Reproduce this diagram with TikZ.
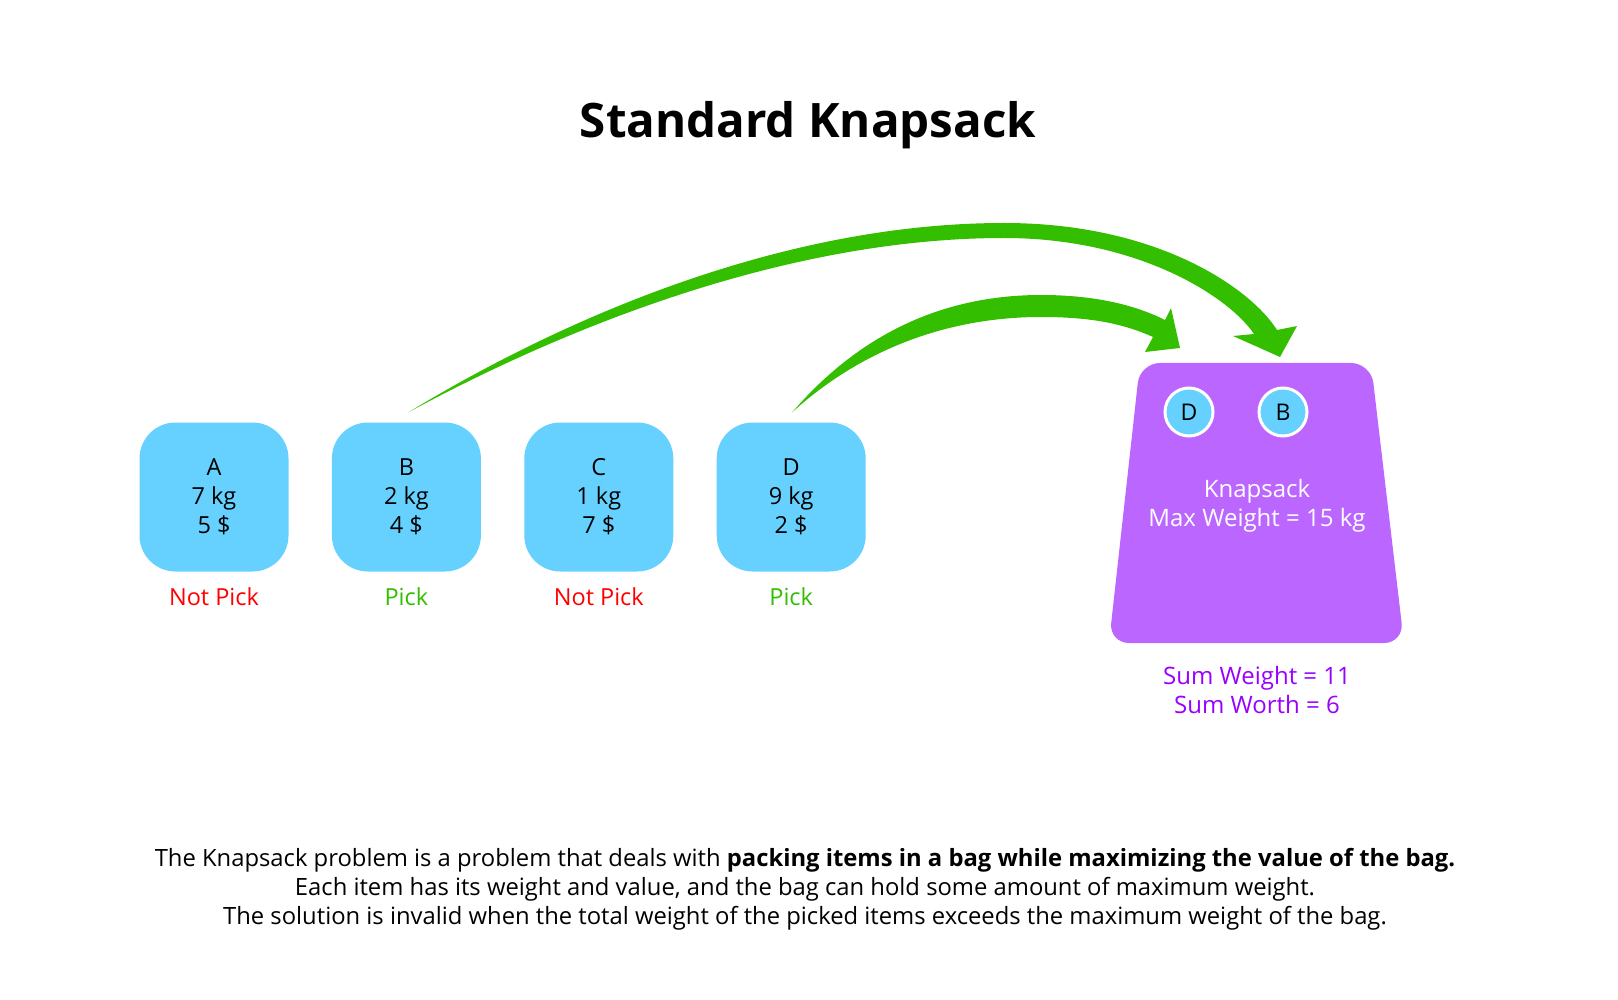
\documentclass[tikz,border=0pt]{standalone}
\usepackage{fontspec}
\setmainfont{Open Sans}
\usepackage{xcolor}
\definecolor{itemblue}{RGB}{102,209,255}
\definecolor{bagpurple}{RGB}{187,102,255}
\definecolor{sumpurple}{RGB}{153,0,255}
\definecolor{pickgreen}{RGB}{51,190,0}
\definecolor{notred}{RGB}{255,0,0}
\usepackage{tikz}
\usetikzlibrary{
    positioning,
    calc
}

\tikzset{
    itembox/.style={fill=itemblue, rounded corners=36pt, minimum width=149pt, minimum height=149pt,
        inner sep=0pt, align=center, font=\fontsize{23.5}{29}\selectfont},
    verdict/.style={anchor=base, font=\fontsize{23.5}{29}\selectfont},
    chip/.style={circle, fill=itemblue, draw=white, line width=3pt, minimum size=48pt, inner sep=0pt,
        font=\fontsize{23}{28}\selectfont},
    bagtext/.style={align=center, font=\fontsize{24}{29}\selectfont}
}

\begin{document}
\begin{tikzpicture}[x=1pt, y=-1pt, node distance=43pt]
    \useasboundingbox (0,0) rectangle (1618,1000);

    % title
    \node[anchor=base, font=\fontsize{47.5}{52}\selectfont\bfseries] (title) at (808,138) {Standard Knapsack};

    % items
    \node[itembox] (itemA) at (214,497) {A\\7 kg\\5 \$};
    \node[itembox, right=of itemA] (itemB) {B\\2 kg\\4 \$};
    \node[itembox, right=of itemB] (itemC) {C\\1 kg\\7 \$};
    \node[itembox, right=of itemC] (itemD) {D\\9 kg\\2 \$};

    \node[verdict, text=notred] (pickA) at ($(itemA.south)+(0,34)$) {Not Pick};
    \node[verdict, text=pickgreen] (pickB) at ($(itemB.south)+(0,34)$) {Pick};
    \node[verdict, text=notred] (pickC) at ($(itemC.south)+(0,34)$) {Not Pick};
    \node[verdict, text=pickgreen] (pickD) at ($(itemD.south)+(0,34)$) {Pick};

    % knapsack
    \fill[bagpurple, rounded corners=20pt] (1140,363) -- (1371,363) -- (1404,643) -- (1109,643) -- cycle;
    \node[chip] (inD) at (1189,412) {D};
    \node[chip] (inB) at (1283,412) {B};
    \node[bagtext, text=white] (bag) at (1257,506) {Knapsack\\Max Weight = 15 kg};
    \node[bagtext, text=sumpurple] (sums) at (1257,690) {Sum Weight = 11\\Sum Worth = 6};

    % picked arrows
    \coordinate (tailB) at ($(itemB.north)+(2,-10)$);
    \coordinate (tailD) at ($(itemD.north)+(1,-10)$);
    \fill[pickgreen] (tailB) .. controls (560,320) and (780,223) .. (1004,223)
        .. controls (1160,223) and (1252,290) .. (1277,330)
        -- (1297,326) -- (1280,357) -- (1233,336) -- (1254,334)
        .. controls (1230,298) and (1140,238) .. (1004,238)
        .. controls (790,238) and (570,325) .. (tailB) -- cycle;
    \fill[pickgreen] (tailD) .. controls (850,345) and (930,295) .. (1041,295)
        .. controls (1095,295) and (1135,305) .. (1165,320)
        -- (1171,308) -- (1180,348) -- (1145,352) -- (1153,337)
        .. controls (1120,322) and (1085,317) .. (1041,317)
        .. controls (940,317) and (855,355) .. (tailD) -- cycle;

    % note
    \node[align=center, font=\fontsize{23.8}{29}\selectfont] (note) at (805,889)
        {The Knapsack problem is a problem that deals with \textbf{packing items in a bag while maximizing the value of the bag.}\\
        Each item has its weight and value, and the bag can hold some amount of maximum weight.\\
        The solution is invalid when the total weight of the picked items exceeds the maximum weight of the bag.};
\end{tikzpicture}
\end{document}
